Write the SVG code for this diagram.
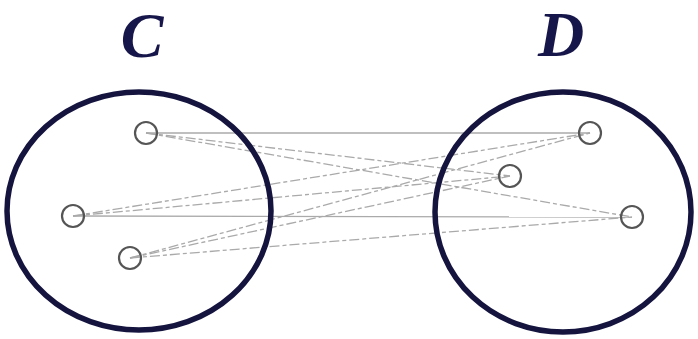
<svg xmlns="http://www.w3.org/2000/svg" width="698" height="339" viewBox="0 0 698 339">
<style>
.set{fill:none;stroke:#14143f;stroke-width:5.5}
.node{fill:none;stroke:#555;stroke-width:2.2}
.lbl{font-family:"Liberation Serif",serif;font-style:italic;font-weight:bold;font-size:64px;fill:#16164a;text-anchor:middle}
.e{stroke:#aaa;stroke-width:1.3;fill:none}
.d{stroke-dasharray:10 3 4 3}
</style>
<rect width="698" height="339" fill="#fff"/>
<g id="connectors">
<line class="e" x1="146" y1="133" x2="590" y2="133"/>
<line class="e d" x1="146" y1="133" x2="510" y2="176"/>
<line class="e d" x1="146" y1="133" x2="632" y2="217"/>
<line class="e d" x1="73" y1="216" x2="590" y2="133"/>
<line class="e d" x1="73" y1="216" x2="510" y2="176"/>
<line class="e" x1="73" y1="216" x2="632" y2="217"/>
<line class="e d" x1="130" y1="258" x2="590" y2="133"/>
<line class="e d" x1="130" y1="258" x2="510" y2="176"/>
<line class="e d" x1="130" y1="258" x2="632" y2="217"/>
</g>
<g id="setC">
<ellipse class="set" cx="139" cy="211" rx="132" ry="119"/>
<text class="lbl" x="142" y="57">C</text>
</g>
<g id="setD">
<ellipse class="set" cx="563" cy="212" rx="128" ry="120"/>
<text class="lbl" x="561" y="56">D</text>
</g>
<g id="c1"><circle class="node" cx="146" cy="133" r="11"/></g>
<g id="c2"><circle class="node" cx="73" cy="216" r="11"/></g>
<g id="c3"><circle class="node" cx="130" cy="258" r="11"/></g>
<g id="d1"><circle class="node" cx="590" cy="133" r="11"/></g>
<g id="d2"><circle class="node" cx="510" cy="176" r="11"/></g>
<g id="d3"><circle class="node" cx="632" cy="217" r="11"/></g>
</svg>
